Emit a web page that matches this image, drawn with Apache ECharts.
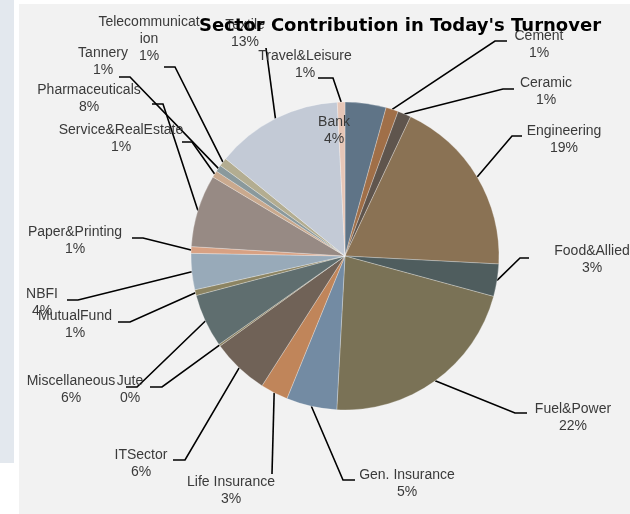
<!doctype html>
<html lang="en">
<head>
    <meta charset="UTF-8">
    <title>sector turnover pie</title>
    <style>
        body{margin:0; background:#fff;}
        .strip{position:absolute; left:0; top:0; width:14px; height:463px; background:#e3e8ee;}
        .panel{position:absolute; left:19px; top:4px; width:611px; height:510px; background:#f2f2f2;}
        #pie{position:absolute; left:0; top:0; width:630px; height:514px;}
    </style>
    <script src="https://cdn.jsdelivr.net/npm/echarts@6/dist/echarts.min.js"></script>
</head>
<body>
<div class="strip"></div>
<div class="panel"></div>
<div id="pie"></div>
<script>
    // sectors, clockwise from 12 o'clock
    var sectors = ['Bank','Cement','Ceramic','Engineering','Food&Allied','Fuel&Power','Gen. Insurance',
        'Life Insurance','ITSector','Jute','Miscellaneous','MutualFund','NBFI','Paper&Printing',
        'Pharmaceuticals','Service&RealEstate','Tannery','Telecommunication','Textile','Travel&Leisure'];
    var turnover = [4.3,1.3,1.4,18.8,3.4,21.6,5.3,2.9,6.0,0.2,5.6,0.6,3.8,0.7,7.6,0.7,0.7,0.9,13.3,0.8];

    var palette = ['#5f7487','#a06f48','#5f554d','#8a7254','#4f5d5e','#7a7256','#738ba3','#c0855a','#706257','#8a8060',
        '#5f6e6f','#8c8462','#98aab9','#d8a183','#978a84','#c9a98e','#8a999c','#b3ad91','#c3cad6','#e6c6b7'];

    // label spots: [label centre x, centre y, line end x, y, elbow x, y]
    var spots = [
        [334,131, null,null,null,null],
        [539,45, 507,41, 495,41],
        [546,92, 514,89, 503,89],
        [564,140, 522,136, 512,136],
        [592,260, 529,258, 520,258],
        [573,418, 527,413, 515,413],
        [407,484, 355,480, 343,480],
        [231,491, 272,474, 272,474],
        [141,464, 173,460, 185,460],
        [130,390, 150,387, 162,387],
        [71,390, 126,387, 137,387],
        [75,325, 118,322, 130,322],
        [42,303, 67,300, 78,300],
        [75,241, 132,238, 143,238],
        [89,99, 152,104, 163,104],
        [121,139, 182,142, 192,142],
        [103,62, 119,77, 130,77],
        [149,39, 164,67, 175,67],
        [245,34, 266,48, 266,48],
        [305,65, 318,78, 333,78]
    ];

    var total = turnover.reduce(function (a, b) { return a + b; }, 0);
    var wrapped = {'Telecommunication': 'Telecommunicat\nion'};

    var data = sectors.map(function (name, i) {
        var item = {name: name, value: turnover[i], itemStyle: {color: palette[i]}};
        if (i === 0) item.labelLine = {show: false};
        return item;
    });

    var chart = echarts.init(document.getElementById('pie'));
    chart.setOption({
        animation: false,
        title: {
            text: "Sector Contribution in Today's Turnover",
            left: 395,
            top: 12,
            textAlign: 'center',
            textStyle: {fontFamily: 'DejaVu Sans', fontSize: 18, fontWeight: 'bold', color: '#000'}
        },
        series: [
            {
                type: 'pie',
                center: [345, 256],
                radius: 154,
                startAngle: 90,
                clockwise: true,
                avoidLabelOverlap: false,
                data: data,
                itemStyle: {borderColor: 'rgba(255,255,255,0.45)', borderWidth: 0.6},
                label: {
                    show: true,
                    position: 'outside',
                    fontFamily: 'Liberation Sans, Arial',
                    fontSize: 14,
                    lineHeight: 17,
                    color: '#3a3a3a',
                    align: 'center',
                    formatter: function (p) {
                        var n = wrapped[p.name] || p.name;
                        return n + '\n' + Math.round(p.value / total * 100) + '%';
                    }
                },
                labelLine: {show: true, length: 10, length2: 10, lineStyle: {color: '#000', width: 1.6}},
                labelLayout: function (params) {
                    var s = spots[params.dataIndex];
                    var out = {x: s[0], y: s[1], align: 'center', verticalAlign: 'middle'};
                    if (s[2] != null && params.labelLinePoints) {
                        var p0 = params.labelLinePoints[0];
                        out.labelLinePoints = [p0, [s[4], s[5]], [s[2], s[3]]];
                    }
                    return out;
                }
            }
        ]
    });
</script>
</body>
</html>
